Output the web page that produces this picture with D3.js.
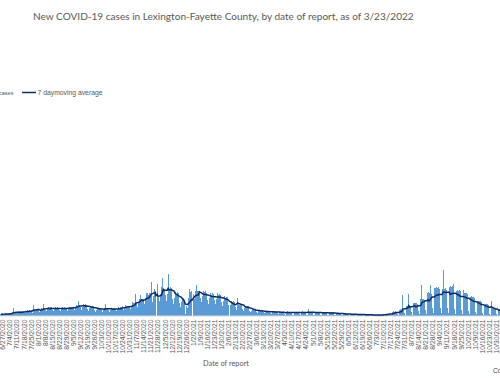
<!DOCTYPE html>
<html lang="en">
<head>
<meta charset="utf-8">
<title>New COVID-19 cases in Lexington-Fayette County</title>
<script src="https://cdn.jsdelivr.net/npm/d3@7/dist/d3.min.js"></script>
<style>
body{margin:0;background:#fff;}
svg{display:block;font-family:"Liberation Sans",Arial,sans-serif;}
</style>
</head>
<body>
<div id="chart"></div>
<script>
var width = 500,
    height = 378;

// daily cases, by date of report, starting 6/19/2020 (one row = one week Sat..Fri)
var startDate = new Date(2020, 5, 19);

var casesJune2020 = [14, 12, 8, 15, 18, 16, 19, 21];

var casesSummer2020 = [
  16, 10, 17, 22, 20, 24, 22,
  26, 18, 27, 92, 33, 36, 34,
  36, 25, 38, 50, 46, 51, 48,
  44, 31, 47, 62, 57, 63, 60,
  51, 36, 124, 72, 66, 70, 69,
  61, 43, 65, 86, 79, 136, 83,
  71, 50, 76, 101, 92, 100, 97,
  72, 52, 75, 100, 95, 99, 96,
  70, 49, 77, 103, 91, 102, 95,
  76, 54, 81, 108, 99, 106, 104,
  92, 65, 97, 130, 119, 172, 124,
  97, 68, 103, 137, 125, 134, 131,
  82, 58, 86, 115, 106, 112, 110,
  66, 47, 70, 94, 86, 92, 90
];

var casesFall2020 = [
  61, 43, 65, 86, 140, 85, 83,
  65, 46, 68, 91, 84, 90, 87,
  71, 50, 76, 101, 92, 99, 97,
  120, 61, 92, 122, 112, 120, 117,
  112, 79, 119, 158, 145, 156, 264,
  143, 101, 151, 202, 252, 198, 193,
  194, 137, 205, 274, 251, 269, 262,
  404, 158, 238, 317, 290, 0, 384,
  240, 169, 254, 338, 452, 333, 324,
  245, 173, 259, 496, 317, 340, 331,
  204, 144, 216, 288, 264, 283, 276,
  150, 105, 160, 200, 185, 150, 20,
  120, 90, 210, 316, 280, 290, 0
];

var casesWinter2021 = [
  260, 200, 300, 364, 300, 290, 280,
  210, 160, 240, 300, 280, 290, 270,
  190, 140, 210, 270, 250, 265, 258,
  185, 135, 200, 265, 245, 260, 250,
  160, 115, 175, 230, 210, 225, 220,
  125, 0, 130, 175, 160, 170, 165,
  100, 70, 212, 140, 130, 138, 135,
  80, 55, 88, 115, 106, 112, 110,
  55, 38, 60, 80, 72, 78, 75,
  45, 30, 50, 65, 60, 63, 62,
  38, 26, 42, 55, 51, 54, 53,
  35, 24, 38, 50, 46, 49, 48,
  33, 22, 37, 48, 44, 47, 46
];

var casesSpring2021 = [
  13, 4, 46, 49, 47, 46, 47,
  12, 3, 47, 48, 46, 48, 46,
  13, 4, 45, 50, 47, 47, 46,
  12, 3, 76, 48, 46, 47, 45,
  12, 4, 46, 48, 47, 46, 45,
  11, 3, 41, 43, 42, 42, 41,
  10, 3, 39, 41, 39, 40, 38,
  8, 2, 31, 33, 31, 32, 31,
  6, 2, 23, 25, 24, 23, 23,
  5, 0, 18, 19, 18, 19, 18,
  4, 0, 16, 16, 15, 16, 17,
  3, 0, 10, 11, 11, 10, 11,
  2, 0, 9, 10, 9, 9, 10,
  2, 0, 6, 10, 10, 11, 10
];

var casesFall2021 = [
  6, 0, 20, 23, 22, 23, 22,
  12, 3, 46, 50, 48, 49, 44,
  18, 5, 70, 75, 71, 244, 66,
  29, 8, 109, 116, 256, 112, 104,
  40, 11, 148, 156, 150, 152, 140,
  52, 15, 195, 372, 198, 200, 190,
  71, 20, 265, 280, 270, 364, 260,
  88, 25, 328, 345, 330, 338, 320,
  86, 25, 320, 544, 322, 330, 312,
  95, 27, 340, 355, 345, 350, 380,
  80, 23, 296, 312, 300, 305, 290,
  71, 20, 304, 275, 265, 270, 255,
  59, 17, 218, 230, 220, 225, 210,
  46, 13, 172, 180, 172, 176, 165,
  36, 10, 132, 140, 133, 136, 128,
  23, 7, 172, 90, 86, 88, 82,
  21, 6, 78, 82, 80, 81, 76,
  20, 6, 78
];

var firstTickDate = new Date(2020, 5, 27);
var titleText = "New COVID-19 cases in Lexington-Fayette County, by date of report, as of 3/23/2022";
var seriesNames = ["Daily cases", "7 daymoving average"];
var axisTitle = "Date of report";

var cases = [].concat(casesJune2020, casesSummer2020, casesFall2020,
                      casesWinter2021, casesSpring2021, casesFall2021);
var dates = cases.map(function(d, i){ return d3.timeDay.offset(startDate, i); });

// trailing 7 day average
var avg = [];
for (var i = 6; i < cases.length; i++) {
  avg.push({i: i, v: d3.mean(cases.slice(i - 6, i + 1))});
}

var fmt = d3.timeFormat("%-m/%-d/%Y");
var tickIdx = d3.range(cases.length).filter(function(i){
  var c = d3.timeDay.count(firstTickDate, dates[i]);
  return c >= 0 && c % 7 === 0;
});

var svg = d3.select("#chart").append("svg")
    .attr("width", width)
    .attr("height", height);

var step = 1.007,
    x0 = 3 - 8.5 * step;
var x = d3.scaleBand()
    .domain(d3.range(cases.length))
    .range([x0, x0 + cases.length * step]);

var baseY = 315.5;
var y = d3.scaleLinear()
    .domain([0, 2520])
    .range([baseY, 105.5]);

svg.append("g")
    .attr("shape-rendering", "crispEdges")
    .selectAll("rect")
    .data(cases)
    .enter()
    .append("rect")
    .attr("x", function(d, i){ return x(i); })
    .attr("y", function(d){ return y(d); })
    .attr("width", x.bandwidth())
    .attr("height", function(d){ return baseY - y(d); })
    .attr("fill", "#5b9bd5");

var axis = svg.append("g")
    .attr("transform", "translate(0," + baseY + ")")
    .call(d3.axisBottom(x).tickValues(tickIdx)
      .tickFormat(function(i){ return fmt(dates[i]); })
      .tickSize(0));
axis.select(".domain").attr("stroke", "#d9d9d9");
axis.selectAll("text")
    .attr("transform", "rotate(-90)")
    .attr("text-anchor", "end")
    .attr("x", -4)
    .attr("y", 0)
    .attr("dy", "0.35em")
    .attr("fill", "#595959")
    .style("font-size", "6.8px")
    .style("font-family", "'Liberation Sans',Arial,sans-serif");

var line = d3.line()
    .x(function(d){ return x(d.i) + x.bandwidth() / 2; })
    .y(function(d){ return y(d.v); });

svg.append("path")
    .datum(avg)
    .attr("d", line)
    .attr("fill", "none")
    .attr("stroke", "#0f2a66")
    .attr("stroke-width", 1.5);

// text fitted to the widths seen in the picture
function fit(sel, w) {
  var len = sel.node().getComputedTextLength();
  var fs = parseFloat(sel.style("font-size"));
  sel.style("font-size", (fs * w / len) + "px");
}

var title = svg.append("text")
    .attr("x", 33).attr("y", 19.5)
    .attr("fill", "#595959")
    .style("font-family", "Lato,'Open Sans',sans-serif")
    .style("font-size", "11px")
    .text(titleText);
fit(title, 381);

// legend
svg.append("text")
    .attr("x", 13.5).attr("y", 94.5)
    .attr("text-anchor", "end")
    .attr("fill", "#595959")
    .style("font-size", "5.6px")
    .text(seriesNames[0]);
svg.append("line")
    .attr("x1", 22).attr("x2", 36)
    .attr("y1", 92.5).attr("y2", 92.5)
    .attr("stroke", "#0f2a66")
    .attr("stroke-width", 1.5);
var lg = svg.append("text")
    .attr("x", 37.5).attr("y", 94.5)
    .attr("fill", "#595959")
    .style("font-size", "5.6px")
    .text(seriesNames[1]);
fit(lg, 65);

var at = svg.append("text")
    .attr("x", 226).attr("y", 366)
    .attr("text-anchor", "middle")
    .attr("fill", "#595959")
    .style("font-family", "Lato,'Open Sans',sans-serif")
    .style("font-size", "7.5px")
    .text(axisTitle);
fit(at, 46);

svg.append("text")
    .attr("x", 493).attr("y", 372.5)
    .attr("fill", "#404040")
    .style("font-size", "6.5px")
    .text("Co");
</script>
</body>
</html>
